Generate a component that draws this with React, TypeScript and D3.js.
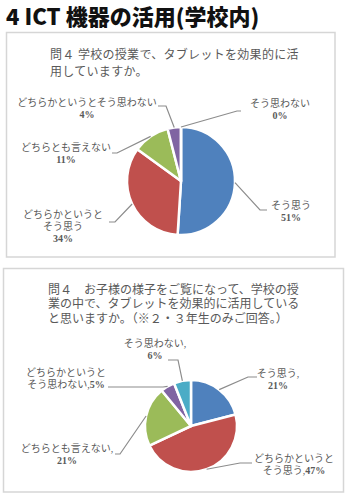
import React from 'react'
import * as d3 from 'd3'

// chart 1: teachers
const categories1 = ['そう思う', 'どちらかというとそう思う', 'どちらとも言えない', 'どちらかというとそう思わない', 'そう思わない']
const values1 = [51, 34, 11, 4, 0]
// chart 2: parents
const categories2 = ['そう思う', 'どちらかというとそう思う', 'どちらとも言えない', 'どちらかというとそう思わない', 'そう思わない']
const values2 = [21, 47, 21, 5, 6]

const colors = ['#4F81BD', '#C0504D', '#9BBB59', '#8064A2', '#4BACC6']

const heading = '4 ICT 機器の活用(学校内)'
const question1 = ['問４ 学校の授業で、タブレットを効果的に活', '用していますか。']
const question2 = [
  '問４　お子様の様子をご覧になって、学校の授',
  '業の中で、タブレットを効果的に活用している',
  'と思いますか。（※２・３年生のみご回答。）',
]

// label placement: text centre x, first line centre y, leader elbow and end
const layout1 = [
  { x: 291, y: 205, split: 0, elbow: [260, 210], end: [267, 210] },
  { x: 63, y: 214, split: 8, elbow: [115, 222], end: [109, 222] },
  { x: 66, y: 147, split: 0, elbow: [117, 153], end: [112, 153] },
  { x: 87, y: 102, split: 0, elbow: [166, 106], end: [158, 106] },
  { x: 280, y: 103, split: 0, elbow: [237, 111], end: [241, 111] },
]
const layout2 = [
  { x: 278, y: 373, split: 0, elbow: [248, 377], end: [257, 377] },
  { x: 294, y: 458, split: 8, elbow: [240, 463], end: [252, 463] },
  { x: 67, y: 448, split: 0, elbow: [120, 454], end: [115, 454] },
  { x: 66, y: 372, split: 8, elbow: [163, 387], end: [108, 387] },
  { x: 155, y: 343, split: 0, elbow: [178, 360], end: [168, 360] },
]

const labelFont = "'Liberation Serif', 'Noto Sans CJK JP', serif"
const grey = '#595959'

type Layout = { x: number; y: number; split: number; elbow: number[]; end: number[] }

const Pie = ({ cx, cy, r, values, categories, layout, comma }: {
  cx: number; cy: number; r: number; values: number[]; categories: string[]; layout: Layout[]; comma: boolean
}) => {
  const pie = d3.pie<number>().sort(null).value((d) => d)
  const arcs = pie(values)
  const arc = d3.arc<d3.PieArcDatum<number>>().innerRadius(0).outerRadius(r)
  const edge = d3.arc<d3.PieArcDatum<number>>().innerRadius(r).outerRadius(r)
  const line = d3.line()

  return (
    <g>
      <g transform={`translate(${cx},${cy})`}>
        {arcs.map((a, i) => (
          <path key={i} d={arc(a) || ''} fill={colors[i]} stroke="#fff" strokeWidth={2.5} strokeLinejoin="round" />
        ))}
      </g>
      {arcs.map((a, i) => {
        const L = layout[i]
        const [sx, sy] = edge.centroid(a)
        const cat = categories[i]
        const pct = `${values[i]}%`
        let lines: { t: string; p: string }[]
        if (comma) {
          lines = L.split
            ? [{ t: cat.slice(0, L.split), p: '' }, { t: cat.slice(L.split) + ',', p: pct }]
            : [{ t: cat + ',', p: '' }, { t: '', p: pct }]
        } else {
          lines = L.split
            ? [{ t: cat.slice(0, L.split), p: '' }, { t: cat.slice(L.split), p: '' }, { t: '', p: pct }]
            : [{ t: cat, p: '' }, { t: '', p: pct }]
        }
        const lh = comma ? 12.5 : 12
        return (
          <g key={i}>
            <path
              d={line([[cx + sx, cy + sy], L.elbow as [number, number], L.end as [number, number]]) || ''}
              fill="none"
              stroke="#8c8c8c"
              strokeWidth={1.2}
            />
            {lines.map((ln, j) => (
              <text
                key={j}
                x={L.x}
                y={L.y + j * lh}
                dy="0.35em"
                textAnchor="middle"
                fontFamily={labelFont}
                fontSize={10}
                fill={grey}
              >
                {ln.t}
                {ln.p && <tspan fontWeight="bold">{ln.p}</tspan>}
              </text>
            ))}
          </g>
        )
      })}
    </g>
  )
}

export default function App() {
  return (
    <svg width={350} height={498} style={{ position: 'absolute', left: 0, top: 0, background: '#fff' }}>
      <rect width={350} height={498} fill="#fff" />
      <text x={6} y={25} fontFamily="'Noto Sans CJK JP', sans-serif" fontWeight={900} fontSize={22} fill="#111">
        {heading}
      </text>

      <rect x={6.5} y={32.5} width={328.5} height={224.5} fill="none" stroke="#d6d6d6" strokeWidth={1.5} />
      {question1.map((q, i) => (
        <text key={i} x={50} y={55 + i * 17} dy="0.35em" fontFamily={labelFont} fontSize={12} fill={grey} letterSpacing={0.3}>
          {q}
        </text>
      ))}
      <Pie cx={181} cy={181} r={54} values={values1} categories={categories1} layout={layout1} comma={false} />

      <rect x={3.5} y={268.5} width={340} height={223.5} fill="none" stroke="#d6d6d6" strokeWidth={1.5} />
      {question2.map((q, i) => (
        <text key={i} x={48} y={290 + i * 14.2} dy="0.35em" fontFamily={labelFont} fontSize={12} fill={grey}>
          {q}
        </text>
      ))}
      <Pie cx={191} cy={426} r={46} values={values2} categories={categories2} layout={layout2} comma={true} />
    </svg>
  )
}
